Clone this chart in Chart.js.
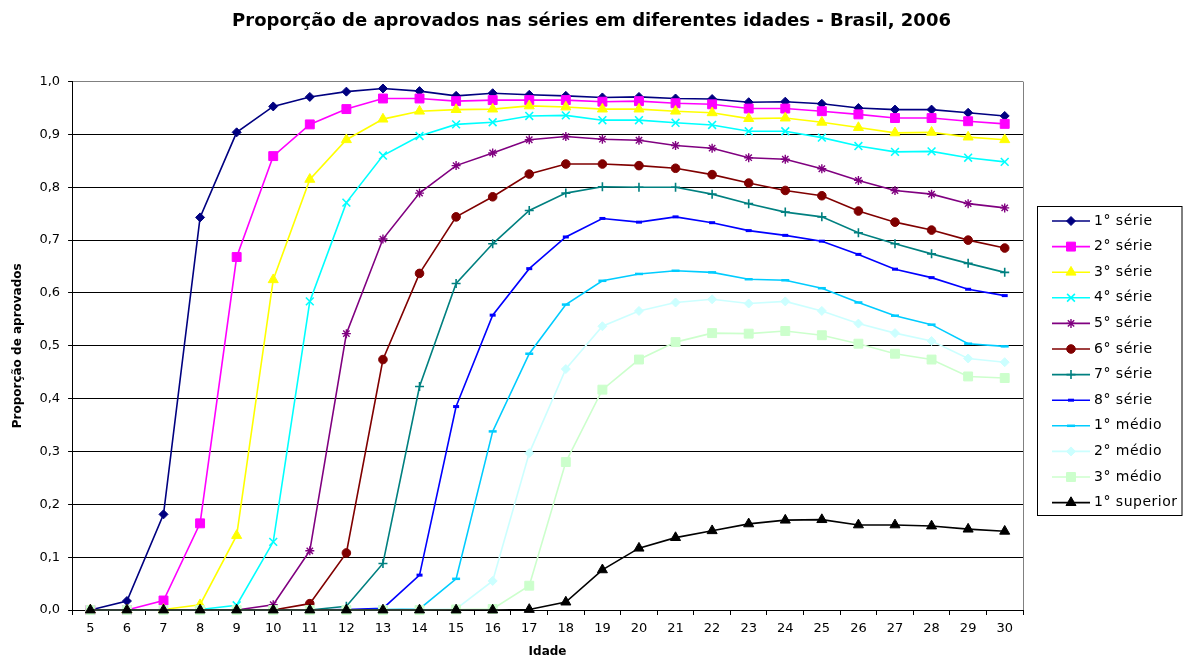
<!DOCTYPE html>
<html>
<head>
<meta charset="utf-8">
<script src="https://cdn.jsdelivr.net/npm/chart.js@4/dist/chart.umd.min.js"></script>
<style>
html,body{margin:0;padding:0;background:#fff;}
#wrap{width:1183px;height:655px;}
</style>
</head>
<body>
<div id="wrap"><canvas id="c" width="1183" height="655"></canvas></div>
<script>
// ---- data ----
const idades = ['5','6','7','8','9','10','11','12','13','14','15','16','17','18','19','20','21','22','23','24','25','26','27','28','29','30'];
const yTicks = [0,0.1,0.2,0.3,0.4,0.5,0.6,0.7,0.8,0.9,1.0];

const serie1 = [0,0.017,0.181,0.743,0.904,0.953,0.971,0.981,0.987,0.982,0.973,0.978,0.975,0.973,0.970,0.971,0.968,0.967,0.961,0.962,0.958,0.950,0.947,0.947,0.941,0.935];
const serie2 = [0,0,0.018,0.164,0.668,0.859,0.919,0.948,0.968,0.968,0.963,0.965,0.965,0.965,0.962,0.963,0.959,0.957,0.949,0.949,0.944,0.938,0.931,0.931,0.925,0.920];
const serie3 = [0,0,0.001,0.010,0.141,0.625,0.815,0.890,0.929,0.944,0.947,0.948,0.954,0.952,0.948,0.948,0.944,0.941,0.930,0.931,0.923,0.913,0.903,0.904,0.895,0.890];
const serie4 = [0,0,0,0.001,0.009,0.129,0.584,0.771,0.860,0.897,0.919,0.923,0.935,0.936,0.927,0.927,0.922,0.918,0.906,0.906,0.894,0.878,0.867,0.868,0.856,0.848];
const serie5 = [0,0,0,0,0,0.010,0.112,0.523,0.702,0.789,0.841,0.865,0.890,0.896,0.891,0.889,0.879,0.874,0.856,0.853,0.835,0.813,0.794,0.787,0.769,0.761];
const serie6 = [0,0,0,0,0,0,0.012,0.108,0.474,0.637,0.744,0.782,0.825,0.844,0.844,0.841,0.836,0.824,0.808,0.794,0.784,0.755,0.734,0.719,0.700,0.685];
const serie7 = [0,0,0,0,0,0,0,0.007,0.088,0.423,0.618,0.693,0.756,0.789,0.801,0.800,0.800,0.787,0.769,0.753,0.744,0.714,0.693,0.674,0.656,0.639];
const serie8 = [0,0,0,0,0,0,0,0.001,0.003,0.066,0.385,0.558,0.646,0.706,0.741,0.734,0.744,0.733,0.718,0.709,0.698,0.673,0.645,0.629,0.607,0.595];
const medio1 = [0,0,0,0,0,0,0,0,0.001,0.002,0.059,0.338,0.485,0.578,0.623,0.636,0.642,0.639,0.626,0.624,0.609,0.582,0.557,0.540,0.504,0.499];
const medio2 = [0,0,0,0,0,0,0,0,0,0.001,0.002,0.055,0.297,0.456,0.537,0.566,0.582,0.588,0.580,0.584,0.566,0.542,0.524,0.509,0.476,0.469];
const medio3 = [0,0,0,0,0,0,0,0,0,0,0.001,0.002,0.046,0.280,0.417,0.474,0.507,0.524,0.523,0.528,0.520,0.504,0.485,0.474,0.442,0.439];
const superior1 = [0,0,0,0,0,0,0,0,0,0,0,0,0.001,0.015,0.076,0.117,0.137,0.150,0.163,0.170,0.171,0.161,0.161,0.159,0.153,0.149];

const seriesNames = ['1° série','2° série','3° série','4° série','5° série','6° série','7° série','8° série','1° médio','2° médio','3° médio','1° superior'];
const seriesValues = [serie1,serie2,serie3,serie4,serie5,serie6,serie7,serie8,medio1,medio2,medio3,superior1];

// ---- styles ----
const colors  = ['#000080','#FF00FF','#FFFF00','#00FFFF','#800080','#800000','#008080','#0000FF','#00CCFF','#CCFFFF','#CCFFCC','#000000'];
const markers = ['rectRot','rect','triangle','crossRot','star','circle','cross','line','line','rectRot','rect','triangle'];
const radii   = [4.5,6.3,5.8,5.5,4.5,4.3,4.5,3,4,4.5,6.3,5.8];
const mBorder = [1,1,1,1.6,1.4,1,1.6,3,2.5,1,1,1];

Chart.defaults.font.family = '"DejaVu Sans", "Liberation Sans", Arial, sans-serif';
Chart.defaults.color = '#000';

const datasets = seriesNames.map((name, i) => ({
  label: name,
  data: seriesValues[i],
  borderColor: colors[i],
  backgroundColor: colors[i],
  borderWidth: 1.6,
  pointStyle: markers[i],
  pointRadius: radii[i],
  pointHoverRadius: radii[i],
  pointBackgroundColor: colors[i],
  pointBorderColor: colors[i],
  pointBorderWidth: mBorder[i],
  tension: 0,
  fill: false,
  clip: false,
  yAxisID: 'y',
  order: seriesNames.length - i
}));

const plotBorder = {
  id: 'plotBorder',
  beforeDatasetsDraw(chart) {
    const {ctx, chartArea: a} = chart;
    ctx.save();
    ctx.strokeStyle = '#808080';
    ctx.lineWidth = 1;
    const x = Math.round(a.right) + 0.5;
    ctx.beginPath();
    ctx.moveTo(x, a.top);
    ctx.lineTo(x, a.bottom);
    ctx.stroke();
    ctx.restore();
  }
};

const boxLegend = {
  id: 'boxLegend',
  afterDraw(chart) {
    const ctx = chart.ctx, a = chart.chartArea;
    const step = 25.6;
    const dsets = chart.data.datasets;
    const n = dsets.length;
    const y0 = (a.top + a.bottom) / 2 + 16 - (n - 1) / 2 * step;
    const bx = Math.round(a.right + 14) + 0.5;
    const by = Math.round(y0 - 15) + 0.5;
    ctx.save();
    ctx.strokeStyle = '#000';
    ctx.lineWidth = 1;
    ctx.strokeRect(bx, by, chart.width - 1 - bx, Math.round((n - 1) * step + 27));
    dsets.forEach((ds, i) => {
      const y = y0 + i * step;
      const x1 = a.right + 29, x2 = a.right + 67, xm = (x1 + x2) / 2;
      ctx.strokeStyle = ds.borderColor;
      ctx.lineWidth = ds.borderWidth;
      ctx.beginPath();
      ctx.moveTo(x1, y);
      ctx.lineTo(x2, y);
      ctx.stroke();
      ctx.fillStyle = ds.pointBackgroundColor;
      ctx.strokeStyle = ds.pointBorderColor;
      ctx.lineWidth = ds.pointBorderWidth;
      if (Chart.helpers && Chart.helpers.drawPoint) {
        Chart.helpers.drawPoint(ctx, {pointStyle: ds.pointStyle, rotation: 0, radius: ds.pointRadius, borderWidth: ds.pointBorderWidth}, xm, y);
      }
      ctx.fillStyle = '#000';
      ctx.font = '14px "DejaVu Sans", "Liberation Sans", Arial, sans-serif';
      ctx.textBaseline = 'middle';
      ctx.textAlign = 'left';
      try { ctx.letterSpacing = '0.5px'; } catch (e) {}
      ctx.fillText(ds.label, a.right + 71, y);
      try { ctx.letterSpacing = '0px'; } catch (e) {}
    });
    ctx.restore();
  }
};

new Chart(document.getElementById('c'), {
  type: 'line',
  data: { labels: idades, datasets: datasets },
  options: {
    responsive: false,
    devicePixelRatio: 1,
    animation: false,
    events: [],
    layout: { padding: { left: 0, right: 0, top: 0, bottom: -4 } },
    plugins: {
      legend: { display: false },
      tooltip: { enabled: false },
      title: {
        display: true,
        text: 'Proporção de aprovados nas séries em diferentes idades - Brasil, 2006',
        font: { size: 18, weight: 'bold' },
        color: '#000',
        padding: { top: 11, bottom: 49 }
      }
    },
    scales: {
      x: {
        type: 'category',
        offset: true,
        grid: { display: true, offset: true, drawOnChartArea: false, drawTicks: true, tickLength: 5, color: '#000', tickColor: '#000' },
        border: { display: true, color: '#000', width: 1 },
        ticks: { font: { size: 13 }, color: '#000', padding: 6, maxRotation: 0, autoSkip: false },
        title: { display: true, text: 'Idade', font: { size: 12, weight: 'bold' }, color: '#000', padding: { top: 2, bottom: 0 } }
      },
      y: {
        position: 'left',
        min: 0,
        max: 1,
        afterBuildTicks(scale) { scale.ticks = yTicks.map(v => ({ value: v })); },
        grid: {
          color: c => (c.tick && c.tick.value === 1) ? '#808080' : '#000',
          tickColor: '#000',
          tickLength: 4,
          lineWidth: 1
        },
        border: { display: true, color: '#000', width: 1 },
        ticks: {
          font: { size: 13 },
          color: '#000',
          padding: 8,
          callback: v => Number(v).toFixed(1).replace('.', ',')
        },
        title: { display: true, text: 'Proporção de aprovados', font: { size: 12, weight: 'bold' }, color: '#000', padding: { top: 10.5, bottom: 6.5 } }
      },
      legendSpace: {
        type: 'linear',
        position: 'right',
        display: true,
        min: 0,
        max: 1,
        grid: { display: false, drawOnChartArea: false, drawTicks: false },
        border: { display: false },
        ticks: { display: false },
        afterFit(scale) { scale.width = 160; }
      }
    }
  },
  plugins: [plotBorder, boxLegend]
});
</script>
</body>
</html>
